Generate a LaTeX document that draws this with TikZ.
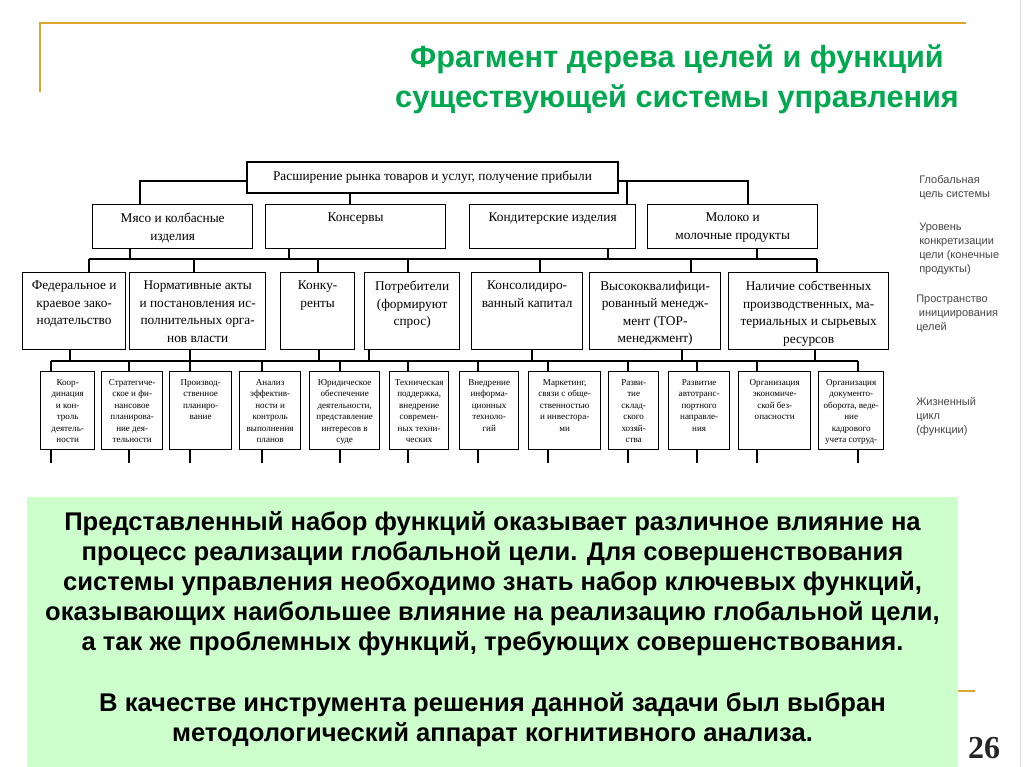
\documentclass[tikz,border=0pt]{standalone}
\usepackage{fontspec}
\setmainfont{Liberation Serif}
\newfontfamily\arialfont{Liberation Sans}
\usetikzlibrary{backgrounds}
\definecolor{titlegreen}{RGB}{0,168,80}
\definecolor{boxgreen}{RGB}{204,255,204}
\definecolor{gold}{RGB}{220,165,45}
\definecolor{labelgray}{RGB}{70,70,70}
\tikzset{
  tbox/.style={draw, line width=1pt, fill=white, inner sep=0pt},
  tone/.style={anchor=north, inner sep=0pt, align=center, yshift=-6.5pt,
    font=\fontsize{10}{13.2}\selectfont},
  tthree/.style={anchor=north, inner sep=0pt, align=center, yshift=-6pt,
    font=\fontsize{6.8}{8.65}\selectfont},
  conn/.style={draw, line width=0.8pt},
  lab/.style={anchor=north west, inner sep=0pt, align=left, text=labelgray,
    font=\arialfont\fontsize{8.25}{10.5}\selectfont},
}
\newcommand\treebox[7]{%
  \node[tbox, minimum width={(#5-#3)*0.75pt}, minimum height={(#6-#4)*0.75pt},
    anchor=north west] (#2) at (#3,#4) {};
  \node[#1] (#2-t) at (#2.north) {#7};
}
\begin{document}
\begin{tikzpicture}[x=0.75pt,y=-0.75pt]
\begin{scope}[on background layer]
  \fill[white] (0,0) rectangle (1024,767);
\end{scope}
\useasboundingbox (0,0) rectangle (1024,767);

% template lines
\draw[gold, line width=2pt] (40,92) -- (40,23) -- (966,23);
\draw[gold, line width=2pt] (40,691) -- (975,691);
\draw[black!12, line width=0.6pt] (1020,0) -- (1020,767);

% title
\node[font=\arialfont\bfseries\fontsize{23}{30}\selectfont, text=titlegreen, align=center]
  (title) at (677,79) {Фрагмент дерева целей и функций\\существующей системы управления};

% top goal
\node[tbox, minimum width={371*0.75pt}, minimum height={31*0.75pt},
  font=\fontsize{10}{13.1}\selectfont] (T) at (432.5,177.5)
  {Расширение рынка товаров и услуг, получение прибыли};

% level 1
\treebox{tone}{L1a}{92}{204}{252}{248}{Мясо и колбасные\\изделия}
\treebox{tone}{L1b}{265}{204}{445}{248}{Консервы}
\treebox{tone}{L1c}{469}{204}{635}{248}{Кондитерские изделия}
\treebox{tone}{L1d}{647}{204}{817}{248}{Молоко и\\молочные продукты}

% level 2
\treebox{tone}{L2a}{22}{272}{125}{349}{Федеральное и\\краевое зако-\\нодательство}
\treebox{tone}{L2b}{129}{272}{265}{349}{Нормативные акты\\и постановления ис-\\полнительных орга-\\нов власти}
\treebox{tone}{L2c}{280}{272}{354}{349}{Конку-\\ренты}
\treebox{tone}{L2d}{364}{272}{459}{349}{Потребители\\(формируют\\спрос)}
\treebox{tone}{L2e}{471}{272}{582}{349}{Консолидиро-\\ванный капитал}
\treebox{tone}{L2f}{589}{272}{720}{349}{Высококвалифици-\\рованный менедж-\\мент (ТОР-\\менеджмент)}
\treebox{tone}{L2g}{728}{272}{888}{349}{Наличие собственных\\производственных, ма-\\териальных и сырьевых\\ресурсов}

% level 3
\treebox{tthree}{B1}{40}{371}{94}{449}{Коор-\\динация\\и кон-\\троль\\деятель-\\ности}
\treebox{tthree}{B2}{101}{371}{162}{449}{Стратегиче-\\ское и фи-\\нансовое\\планирова-\\ние дея-\\тельности}
\treebox{tthree}{B3}{169}{371}{231}{449}{Производ-\\ственное\\планиро-\\вание}
\treebox{tthree}{B4}{239}{371}{300}{449}{Анализ\\эффектив-\\ности и\\контроль\\выполнения\\планов}
\treebox{tthree}{B5}{309}{371}{379}{449}{Юридическое\\обеспечение\\деятельности,\\представление\\интересов в\\суде}
\treebox{tthree}{B6}{389}{371}{448}{449}{Техническая\\поддержка,\\внедрение\\современ-\\ных техни-\\ческих}
\treebox{tthree}{B7}{459}{371}{518}{449}{Внедрение\\информа-\\ционных\\техноло-\\гий}
\treebox{tthree}{B8}{528}{371}{600}{449}{Маркетинг,\\связи с обще-\\ственностью\\и инвестора-\\ми}
\treebox{tthree}{B9}{608}{371}{658}{449}{Разви-\\тие\\склад-\\ского\\хозяй-\\ства}
\treebox{tthree}{B10}{668}{371}{729}{449}{Развитие\\автотранс-\\портного\\направле-\\ния}
\treebox{tthree}{B11}{738}{371}{810}{449}{Организация\\экономиче-\\ской без-\\опасности}
\treebox{tthree}{B12}{818}{371}{883}{449}{Организация\\документо-\\оборота, веде-\\ние\\кадрового\\учета сотруд-}

% connectors
\begin{scope}[on background layer]
  % level 0 -> 1
  \coordinate (b0L) at (140,181);
  \coordinate (b0R) at (748,181);
  \coordinate (b0c) at (627,181);
  \coordinate (b0k) at (350,204);
  \draw[conn] (b0L -| T.west) -- (b0L) -- (b0L |- L1a.north);
  \draw[conn] (b0R -| T.east) -- (b0R) -- (b0R |- L1d.north);
  \draw[conn] (b0c) -- (b0c |- L1c.north);
  \draw[conn] (b0k |- T.south) -- (b0k |- L1b.north);
  % level 1 -> 2
  \coordinate (b1L) at (89,259);
  \coordinate (b1R) at (817,259);
  \draw[conn] (b1L) -- (b1R);
  \foreach \x/\n in {130/L1a, 289/L1b, 608/L1c, 757/L1d}{
    \coordinate (p\n) at (\x,259);
    \draw[conn] (p\n |- \n.south) -- (p\n);
  }
  \foreach \x/\n in {89/L2a, 194/L2b, 318/L2c, 408/L2d, 540/L2e, 691/L2f, 817/L2g}{
    \coordinate (c\n) at (\x,259);
    \draw[conn] (c\n) -- (c\n |- \n.north);
  }
  % level 2 -> 3
  \coordinate (b2L) at (51,361);
  \coordinate (b2R) at (858,361);
  \draw[conn] (b2L) -- (b2R);
  \foreach \x/\n in {70/L2a, 190/L2b, 319/L2c, 369/L2d, 532/L2e, 682/L2f, 815/L2g}{
    \coordinate (p\n) at (\x,361);
    \draw[conn] (p\n |- \n.south) -- (p\n);
  }
  \foreach \x/\n in {51/B1, 129/B2, 190/B3, 262/B4, 340/B5, 408/B6, 478/B7, 548/B8, 628/B9, 697/B10, 757/B11, 858/B12}{
    \coordinate (c\n) at (\x,361);
    \coordinate (q\n) at (\x,463);
    \draw[conn] (c\n) -- (c\n |- \n.north);
    \draw[conn] (q\n |- \n.south) -- (q\n);
  }
\end{scope}

% right-side labels
\node[lab] (lab1) at (919,175) {Глобальная\\цель системы};
\node[lab] (lab2) at (919,223) {Уровень\\конкретизации\\цели (конечные\\продукты)};
\node[lab] (lab3) at (916,295) {Пространство\\\hspace*{2pt}инициирования\\целей};
\node[lab] (lab4) at (916,397) {Жизненный\\цикл\\(функции)};

% green note
\path[fill=boxgreen] (27,497) rectangle (958,767);
\node[anchor=north, inner sep=0pt, align=center,
  font=\arialfont\bfseries\fontsize{19.2}{22.6}\selectfont] (note) at (492.5,511)
  {Представленный набор функций оказывает различное влияние на\\
   процесс реализации глобальной цели. Для совершенствования\\
   системы управления необходимо знать набор ключевых функций,\\
   оказывающих наибольшее влияние на реализацию глобальной цели,\\
   а так же проблемных функций, требующих совершенствования.\\[22.6pt]
   В качестве инструмента решения данной задачи был выбран\\
   методологический аппарат когнитивного анализа.};

% page number
\node[font=\bfseries\fontsize{24}{24}\selectfont, text=black!85] (pg) at (984,748) {26};
\end{tikzpicture}
\end{document}
